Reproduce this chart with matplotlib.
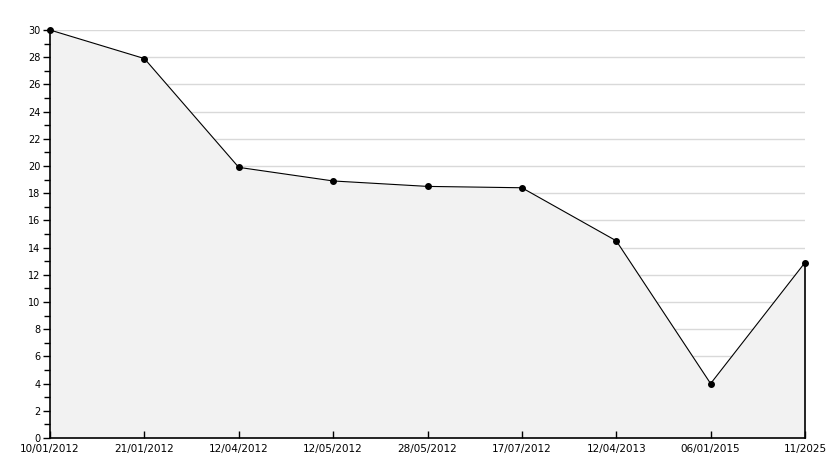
import matplotlib
matplotlib.use("Agg")
import matplotlib.pyplot as plt
import numpy as np

dates = ["10/01/2012", "21/01/2012", "12/04/2012", "12/05/2012", "28/05/2012",
         "17/07/2012", "12/04/2013", "06/01/2015", "11/2025"]
values = [30, 27.9, 19.9, 18.9, 18.5, 18.4, 14.5, 4.0, 12.9]
yticks = list(range(0, 31, 2))

W, H = 834, 468
fig = plt.figure(figsize=(W / 100, H / 100), dpi=100)
ax = fig.add_axes([50 / W, (H - 438) / H, (805 - 50) / W, (438 - 30) / H])

x = np.arange(len(values))
ax.fill_between(x, values, 0, color="#f2f2f2", zorder=1, linewidth=0)
ax.plot(x, values, color="black", linewidth=0.8, zorder=3)
ax.plot(x, values, linestyle="none", marker="o", markersize=4, color="black",
        zorder=4, clip_on=False)
ax.plot([x[-1], x[-1]], [0, values[-1]], color="black", linewidth=1.2, zorder=3,
        clip_on=False)

ax.set_xlim(0, len(values) - 1)
ax.set_ylim(0, 30)
ax.set_yticks(yticks)
ax.set_yticks(range(1, 30, 2), minor=True)
ax.set_xticks(x)
ax.set_xticklabels(dates)
for v in yticks[1:]:
    ax.axhline(v, color="#d9d9d9", linewidth=1, zorder=0.5)

for s in ["top", "right"]:
    ax.spines[s].set_visible(False)
for s in ["left", "bottom"]:
    ax.spines[s].set_linewidth(1.2)
    ax.spines[s].set_zorder(5)

ax.tick_params(axis="y", labelsize=7, length=5, width=1, direction="out", pad=2)
ax.tick_params(axis="y", which="minor", length=4, width=1)
ax.tick_params(axis="x", labelsize=7.5, length=5, width=1, direction="in", pad=4)
ax.set_facecolor("white")

fig.savefig("out.png", dpi=100)
